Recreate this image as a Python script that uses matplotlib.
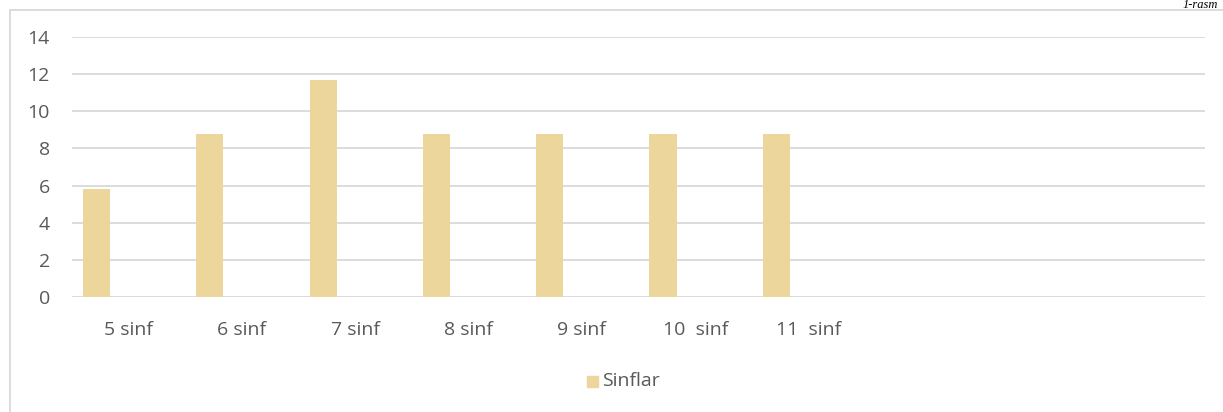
import numpy as np
import matplotlib
matplotlib.use("Agg")
import matplotlib.pyplot as plt
from matplotlib.patches import Rectangle
from matplotlib.lines import Line2D

# data
categories = ["5 sinf", "6 sinf", "7 sinf", "8 sinf", "9 sinf", "10  sinf", "11  sinf", "", "", ""]
sinflar = [5.8, 8.8, 11.7, 8.8, 8.8, 8.8, 8.8, None, None, None]
yticks = [0, 2, 4, 6, 8, 10, 12, 14]

bar_color = "#EDD69C"
grid_color = "#D9D9D9"
text_color = "#595959"

W, H = 1223, 412
fig = plt.figure(figsize=(W / 100, H / 100), dpi=100)
plt.rcParams["font.family"] = ["Open Sans", "DejaVu Sans"]

ax = fig.add_axes([72 / W, 1 - 297 / H, (1205 - 72) / W, (297 - 37) / H])

x = np.arange(len(categories))
vals = [v if v is not None else 0 for v in sinflar]
ax.bar(x - 0.283, vals, width=0.24, color=bar_color, edgecolor="none", zorder=3)

ax.set_xlim(-0.5, len(categories) - 0.5)
ax.set_ylim(0, 14)
ax.set_yticks(yticks)
ax.set_yticklabels([str(t) for t in yticks], fontsize=14, color=text_color)
ax.set_xticks(x)
ax.set_xticklabels(categories, fontsize=14, color=text_color)
ax.tick_params(axis="both", length=0)
ax.tick_params(axis="y", pad=16)
ax.tick_params(axis="x", pad=17)
ax.grid(axis="y", color=grid_color, linewidth=1.3, zorder=0)
for s in ax.spines.values():
    s.set_visible(False)

# legend
fig.patches.append(Rectangle((587 / W, 1 - 387 / H), 11 / W, 11 / H,
                             transform=fig.transFigure, color=bar_color))
fig.text(602 / W, 1 - 381 / H, "Sinflar", fontsize=14, color=text_color, va="center")

# chart frame (partly outside the image)
fig.add_artist(Line2D([9.5 / W, 9.5 / W], [0, 1 - 10 / H], color=grid_color, lw=1.3))
fig.add_artist(Line2D([9.5 / W, 1], [1 - 10 / H, 1 - 10 / H], color=grid_color, lw=1.3))

# caption above the frame, top right
fig.text(1218 / W, 1 - 8 / H, "1-rasm", fontsize=9, style="italic",
         family="Liberation Serif", ha="right", va="baseline")

fig.savefig("out.png", dpi=100)
